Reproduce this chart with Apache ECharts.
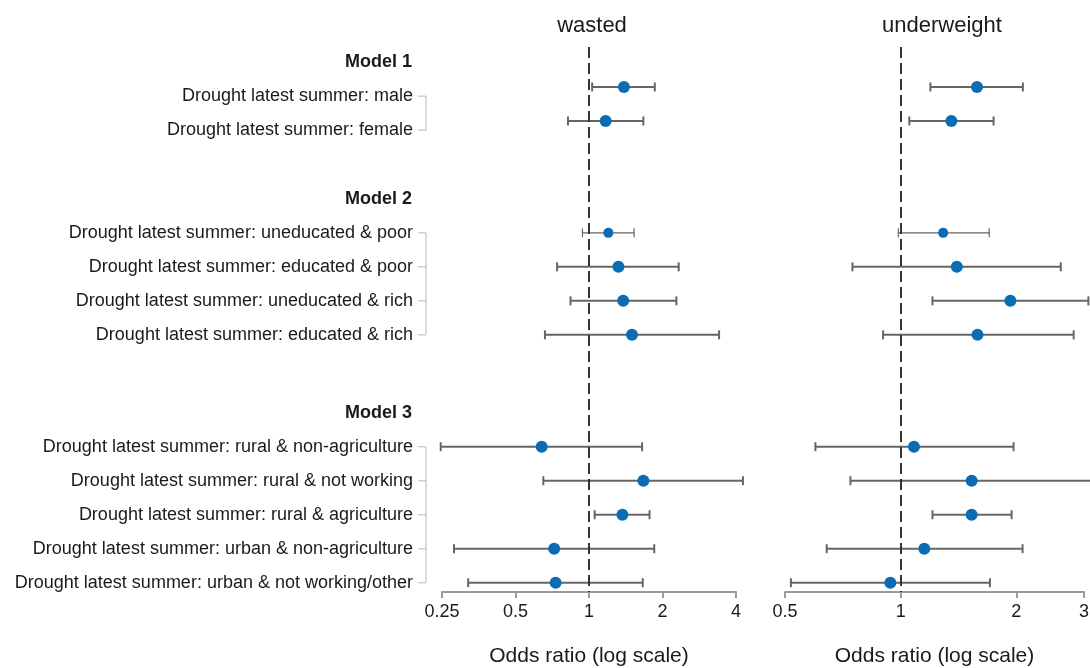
<!DOCTYPE html>
<html><head><meta charset="utf-8">
<script src="https://cdn.jsdelivr.net/npm/echarts@6/dist/echarts.min.js"></script>
<style>html,body{margin:0;padding:0;background:#fff}#c{width:1090px;height:668px}</style>
</head><body><div id="c"></div>
<script>
// ---------- data ----------
const groupNames = ['Model 1', 'Model 2', 'Model 3'];
const categories = [
  'Drought latest summer: male',
  'Drought latest summer: female',
  'Drought latest summer: uneducated & poor',
  'Drought latest summer: educated & poor',
  'Drought latest summer: uneducated & rich',
  'Drought latest summer: educated & rich',
  'Drought latest summer: rural & non-agriculture',
  'Drought latest summer: rural & not working',
  'Drought latest summer: rural & agriculture',
  'Drought latest summer: urban & non-agriculture',
  'Drought latest summer: urban & not working/other'
];
const groupOf = [0, 0, 1, 1, 1, 1, 2, 2, 2, 2, 2];
const panelTitles = ['wasted', 'underweight'];
const axisTitle = 'Odds ratio (log scale)';

const wastedOR = [1.39, 1.17, 1.20, 1.32, 1.38, 1.50, 0.64, 1.67, 1.37, 0.72, 0.73];
const wastedLo = [1.03, 0.82, 0.94, 0.74, 0.84, 0.66, 0.247, 0.65, 1.055, 0.28, 0.32];
const wastedHi = [1.86, 1.67, 1.53, 2.33, 2.28, 3.41, 1.65, 4.27, 1.77, 1.85, 1.66];

const underOR = [1.58, 1.355, 1.29, 1.40, 1.93, 1.585, 1.083, 1.53, 1.53, 1.152, 0.94];
const underLo = [1.195, 1.053, 0.986, 0.749, 1.21, 0.90, 0.60, 0.74, 1.21, 0.642, 0.518];
const underHi = [2.08, 1.745, 1.70, 2.61, 3.08, 2.82, 1.967, 3.4, 1.944, 2.076, 1.707];

const wastedTicks = [0.25, 4];   // axis min / max
const underTicks = [0.5, 3];

// ---------- layout ----------
const FONT = '"Liberation Sans", Arial, Helvetica, sans-serif';
const GROUP_EXTRA = 2.29;
const LABEL_SHIFT = [0.27, 0, 0];
const THIN_ROWS = [2];
const Y_MIN = -1.176, Y_MAX = 14.853;
const pos = categories.map((_, i) => i + groupOf[i] * GROUP_EXTRA);
const labelPos = pos.map((p, i) => p + LABEL_SHIFT[groupOf[i]]);
const headerData = groupNames.map((g, gi) => {
  const idx = groupOf.map((v, i) => v === gi ? i : -1).filter(i => i >= 0);
  const first = labelPos[idx[0]], last = labelPos[idx[idx.length - 1]];
  return [wastedTicks[0], first - 1, first, last];
});

function txtStyle(text, font, align) {
  return { text, font, fill: '#1a1a1a', align, verticalAlign: 'middle', textAlign: align, textVerticalAlign: 'middle' };
}

function errorBarSeries(xi, ors, los, his) {
  return {
    type: 'custom', xAxisIndex: xi, yAxisIndex: xi, z: 2,
    encode: { x: [0, 2, 3], y: 1 },
    data: ors.map((v, i) => [v, pos[i], los[i], his[i]]),
    renderItem: (params, api) => {
      const y = api.value(1);
      const pl = api.coord([api.value(2), y]);
      const ph = api.coord([api.value(3), y]);
      const w = THIN_ROWS.includes(params.dataIndex) ? 1.2 : 2;
      const st = { stroke: '#666', lineWidth: w };
      const c = 4.5;
      return { type: 'group', children: [
        { type: 'line', shape: { x1: pl[0], y1: pl[1], x2: ph[0], y2: ph[1] }, style: st },
        { type: 'line', shape: { x1: pl[0], y1: pl[1] - c, x2: pl[0], y2: pl[1] + c }, style: st },
        { type: 'line', shape: { x1: ph[0], y1: ph[1] - c, x2: ph[0], y2: ph[1] + c }, style: st }
      ]};
    }
  };
}

function pointSeries(xi, ors) {
  return {
    type: 'scatter', xAxisIndex: xi, yAxisIndex: xi, z: 4, symbol: 'circle',
    data: ors.map((v, i) => ({ value: [v, pos[i]], symbolSize: THIN_ROWS.includes(i) ? 10 : 12 })),
    itemStyle: { color: '#0a6db4', opacity: 1 },
    markLine: {
      silent: true, symbol: ['none', 'none'], label: { show: false },
      lineStyle: { color: '#333', type: [11, 5], width: 2 },
      data: [{ xAxis: 1 }]
    }
  };
}

function xAxisCfg(gi, mm) {
  return {
    type: 'log', logBase: 2, gridIndex: gi, min: mm[0], max: mm[1], position: 'bottom',
    axisLine: { show: true, onZero: false, lineStyle: { color: '#9a9a9a', width: 2 } },
    axisTick: { show: true, length: 6, lineStyle: { color: '#9a9a9a', width: 2 } },
    axisLabel: { fontSize: 18, color: '#1a1a1a', margin: 11, fontFamily: FONT, showMinLabel: true, showMaxLabel: true },
    splitLine: { show: false }, minorTick: { show: false },
    name: axisTitle, nameLocation: 'middle', nameGap: 54,
    nameTextStyle: { fontSize: 21, color: '#1a1a1a', fontFamily: FONT }
  };
}

const chart = echarts.init(document.getElementById('c'), null, { renderer: 'canvas' });
chart.setOption({
  animation: false,
  backgroundColor: '#fff',
  textStyle: { fontFamily: FONT },
  grid: [
    { left: 442, top: 47, width: 294, height: 545, containLabel: false, outerBoundsMode: 'none' },
    { left: 785, top: 47, width: 299, height: 545, containLabel: false, outerBoundsMode: 'none' }
  ],
  xAxis: [xAxisCfg(0, wastedTicks), xAxisCfg(1, underTicks)],
  yAxis: [0, 1].map(gi => ({ type: 'value', gridIndex: gi, inverse: true, min: Y_MIN, max: Y_MAX, show: false, splitLine: { show: false } })),
  graphic: [
    { type: 'text', x: 592, y: 26, style: txtStyle(panelTitles[0], '22px ' + FONT, 'center') },
    { type: 'text', x: 942, y: 26, style: txtStyle(panelTitles[1], '22px ' + FONT, 'center') }
  ],
  series: [
    {
      type: 'custom', xAxisIndex: 0, yAxisIndex: 0, encode: { x: 0, y: 1 },
      data: categories.map((c, i) => [wastedTicks[0], labelPos[i]]),
      renderItem: (params, api) => {
        const p = api.coord([api.value(0), api.value(1)]);
        return { type: 'group', children: [
          { type: 'text', x: p[0] - 29, y: p[1], style: txtStyle(categories[params.dataIndex], '18px ' + FONT, 'right') },
          { type: 'line', shape: { x1: p[0] - 24, y1: p[1], x2: p[0] - 16, y2: p[1] }, style: { stroke: '#c4c4c4', lineWidth: 1.2 } }
        ]};
      }
    },
    {
      type: 'custom', xAxisIndex: 0, yAxisIndex: 0, encode: { x: 0, y: 1 },
      data: headerData,
      renderItem: (params, api) => {
        const p = api.coord([api.value(0), api.value(1)]);
        const y1 = api.coord([api.value(0), api.value(2)])[1];
        const y2 = api.coord([api.value(0), api.value(3)])[1];
        return { type: 'group', children: [
          { type: 'text', x: p[0] - 30, y: p[1], style: txtStyle(groupNames[params.dataIndex], 'bold 18px ' + FONT, 'right') },
          { type: 'line', shape: { x1: p[0] - 16, y1: y1, x2: p[0] - 16, y2: y2 }, style: { stroke: '#c4c4c4', lineWidth: 1.2 } }
        ]};
      }
    },
    errorBarSeries(0, wastedOR, wastedLo, wastedHi),
    errorBarSeries(1, underOR, underLo, underHi),
    pointSeries(0, wastedOR),
    pointSeries(1, underOR)
  ]
});
</script></body></html>
